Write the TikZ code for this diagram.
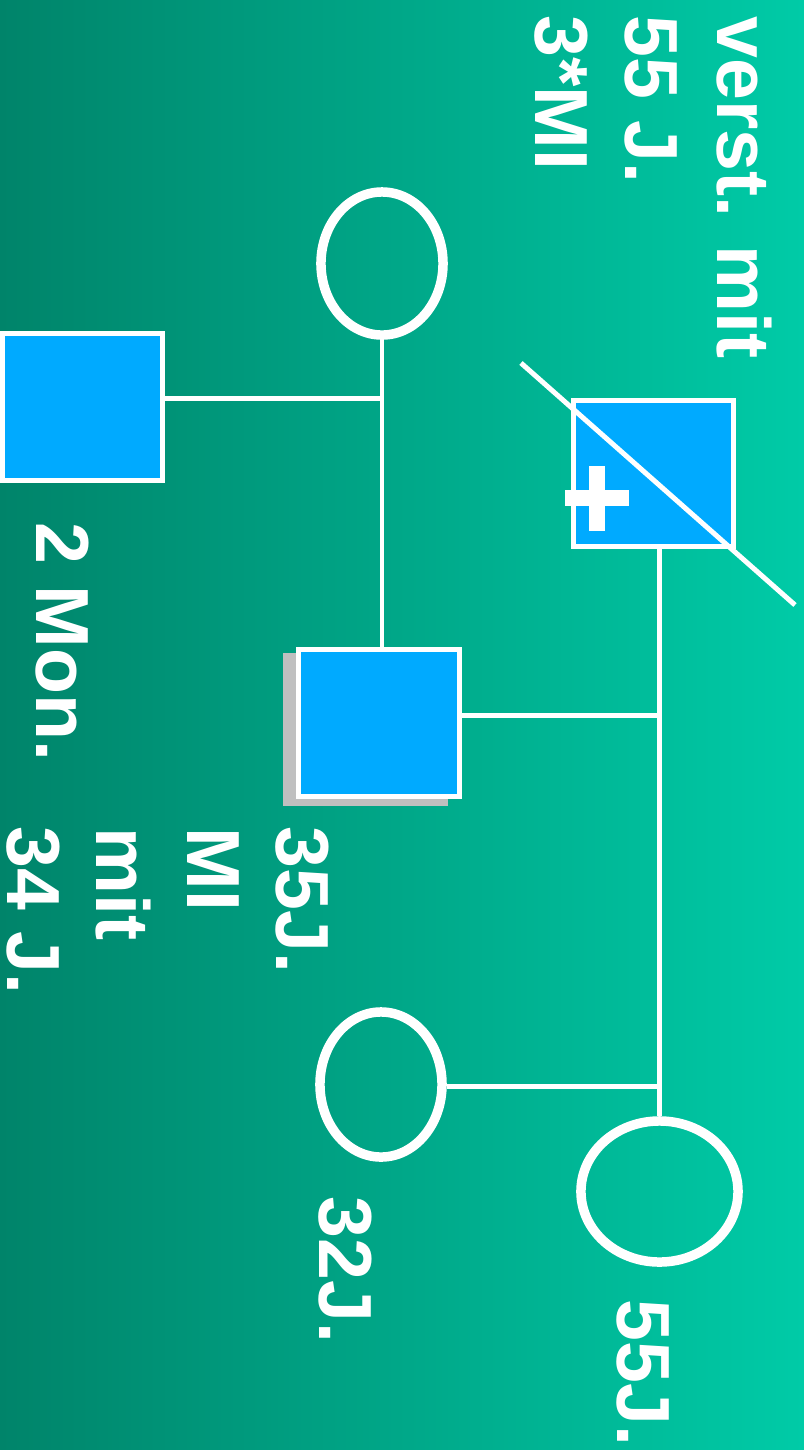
\documentclass[tikz,border=0pt]{standalone}
\usepackage{fontspec}
\setmainfont{Liberation Sans}
\usetikzlibrary{shapes.geometric}
\definecolor{bgdark}{RGB}{0,132,106}
\definecolor{bgmid}{RGB}{0,170,135}
\definecolor{bglight}{RGB}{0,203,167}
\definecolor{sqblue}{RGB}{0,170,255}
\definecolor{shadowgray}{RGB}{191,191,191}
\begin{document}
\begin{tikzpicture}[x=0.01cm, y=-0.01cm,
        male/.style={rectangle, draw=white, line width=1.42pt, fill=sqblue, minimum width=1.6cm, minimum height=1.47cm, inner sep=0pt},
        female/.style={ellipse, draw=white, line width=2.7pt, inner sep=0pt},
        link/.style={draw=white, line width=1.42pt},
        lbl/.style={text=white, font=\bfseries\fontsize{21.4}{25.6}\selectfont, rotate=-90, anchor=base west, inner sep=0pt}]
            \useasboundingbox (0,0) rectangle (804,1450);
            \shade[left color=bgdark, middle color=bgmid, right color=bglight] (0,0) rectangle (804,1450);

            % persons
            \node at (382,263.5) [female, minimum width=1.22cm, minimum height=1.43cm] (gm) {};
            \node at (82.5,407) [male] (gf) {};
            \node at (653.5,473.5) [male, minimum height=1.46cm] (dec) {};
            \fill[shadowgray] (283,653) rectangle (448,806);
            \node at (379,723) [male, minimum width=1.61cm] (ix) {};
            \node at (381,1084.5) [female, minimum width=1.22cm, minimum height=1.45cm] (wife) {};
            \node at (659.5,1191.5) [female, minimum width=1.57cm, minimum height=1.41cm] (ma) {};

            % deceased mark
            \draw[white, line width=1.42pt] (521,363) -- (795,605);
            \draw[white, line width=4.55pt] (565,498) -- (629,498);
            \draw[white, line width=4.55pt] (597,466) -- (597,531);

            % lines
            \coordinate (j1) at (382,398);
            \coordinate (j2) at (659.5,715);
            \coordinate (j3) at (659.5,1086);
            \draw[link] (gm.south) -- (j1) -- (j1 |- ix.north);
            \draw[link] (gf.east |- j1) -- (j1);
            \draw[link] (j2 |- dec.south) -- (j2) -- (j3) -- (ma.north);
            \draw[link] (ix.east |- j2) -- (j2);
            \draw[link] (wife.east |- j3) -- (j3);

            % labels
            \node at (717,16) [lbl] (t1) {verst. mit};
            \node at (625,15) [lbl] (t2) {55 J.};
            \node at (535,15) [lbl] (t3) {3*MI};
            \node at (37,522) [lbl] (t4) {2 Mon.};
            \node at (276,826) [lbl] (t5) {35J.};
            \node at (187,827) [lbl] (t6) {MI};
            \node at (97,827) [lbl] (t7) {mit};
            \node at (8,826) [lbl] (t8) {34 J.};
            \node at (319,1196) [lbl] (t9) {32J.};
            \node at (617,1299) [lbl] (t10) {55J.};
        \end{tikzpicture}
\end{document}
